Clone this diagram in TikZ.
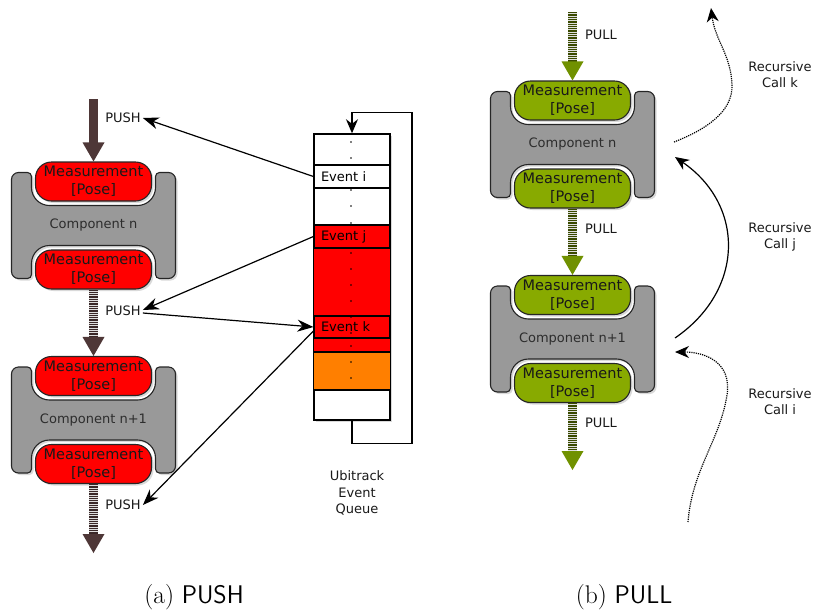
\documentclass[tikz,border=0pt]{standalone}
\usepackage{fontspec}
\newfontfamily\dv{DejaVu Sans}
\usetikzlibrary{shadows,arrows.meta,calc}
\definecolor{pushred}{RGB}{255,0,0}
\definecolor{pullgreen}{RGB}{136,170,0}
\definecolor{bodygray}{RGB}{153,153,153}
\definecolor{qorange}{RGB}{255,127,0}
\definecolor{brownhead}{RGB}{78,55,55}
\definecolor{browndark}{RGB}{58,40,40}
\definecolor{greenhead}{RGB}{112,145,0}
\definecolor{greendark}{RGB}{58,74,0}
\definecolor{stripelight}{RGB}{222,222,222}
\definecolor{textgray}{RGB}{45,45,45}

\tikzset{
  shad/.style={drop shadow={shadow xshift=2pt,shadow yshift=-2pt,opacity=0.3}},
  body/.style={fill=bodygray, draw=black!85, line width=1.1pt, shad},
  pill/.style={draw=black!85, line width=1.1pt, rounded corners=16pt,
    minimum width=116pt, minimum height=39pt, inner sep=0pt, align=center,
    font=\dv\fontsize{14.5}{18}\selectfont, text=black!90, shad},
  complabel/.style={font=\dv\fontsize{13}{16}\selectfont, text=textgray, inner sep=1pt},
  lbl/.style={font=\dv\fontsize{13}{16}\selectfont, text=black!90, inner sep=2pt},
  evrow/.style={draw=black, line width=1.2pt, minimum width=76pt, inner sep=0pt,
    text width=62pt, align=left, font=\dv\fontsize{13}{16}\selectfont},
  conn/.style={draw=black, line width=1.2pt, -{Stealth[length=16pt,width=12pt]}},
  rec/.style={draw=black, line width=1.2pt, -{Stealth[length=14pt,width=12pt]}},
  qloop/.style={draw=black, line width=1.3pt, -{Stealth[length=14pt,width=12pt]}},
  caption/.style={font=\fontsize{25.5}{30}\selectfont, inner sep=0pt}
}

% gray component body with two notches, pills and label
\newcommand\mkcomp[5]{%
  \draw[body] ({#1-82},{#2})
    [rounded corners=7pt] -- ({#1-82},{#2-53})
    [rounded corners=4pt] -- ({#1-62},{#2-53})
    [rounded corners=18pt] -- ({#1-62},{#2-20})
    -- ({#1+62},{#2-20})
    [rounded corners=4pt] -- ({#1+62},{#2-53})
    [rounded corners=7pt] -- ({#1+82},{#2-53})
    -- ({#1+82},{#2+53})
    [rounded corners=4pt] -- ({#1+62},{#2+53})
    [rounded corners=18pt] -- ({#1+62},{#2+20})
    -- ({#1-62},{#2+20})
    [rounded corners=4pt] -- ({#1-62},{#2+53})
    [rounded corners=7pt] -- ({#1-82},{#2+53})
    -- cycle;
  \node[pill, fill=#3] (#4T) at (#1,{#2-44}) {Measurement\\ {[Pose]}};
  \node[pill, fill=#3] (#4B) at (#1,{#2+44}) {Measurement\\ {[Pose]}};
  \node[complabel] (#4L) at (#1,#2) {#5};
}

% thick vertical arrow: #1 start, #2 end, #3 shaft colour, #4 dash, #5 head colour
\newcommand\fatarrow[5]{%
  \draw[line width=9pt, stripelight] (#1) -- ([yshift=18pt]#2);
  \draw[line width=9pt, #3, #4] (#1) -- ([yshift=18pt]#2);
  \fill[#5] (#2) -- ++(-11,-19) -- ++(22,0) -- cycle;
}

\begin{document}
\begin{tikzpicture}[x=1pt,y=-1pt]
\useasboundingbox (0,0) rectangle (816,614);

% ---------------- (a) PUSH ----------------
\mkcomp{93.5}{225.5}{pushred}{ln}{Component n}
\mkcomp{93.5}{420}{pushred}{lm}{Component n+1}

\coordinate (la0) at (93.5,99);
\coordinate (la9) at (93.5,553);
\fatarrow{la0}{lnT.north}{brownhead}{solid}{brownhead}
\fatarrow{lnB.south}{lmT.north}{browndark}{dash pattern=on 1.3pt off 1pt}{brownhead}
\fatarrow{lmB.south}{la9}{browndark}{dash pattern=on 1.3pt off 1pt}{brownhead}

\node[lbl] (pA) at (123,118) {PUSH};
\node[lbl] (pB) at (123,311) {PUSH};
\node[lbl] (pC) at (123,505) {PUSH};

% queue
\node[draw=black, line width=1.5pt, fill=white, minimum width=76pt, minimum height=286pt,
      inner sep=0pt, shad] (queue) at (352,277) {};
\fill[pushred] (314,225) rectangle (390,352);
\fill[qorange] (314,352) rectangle (390,390);
\node[evrow, fill=white, minimum height=23pt] (ei) at (352,176.5) {Event i};
\node[evrow, fill=pushred, minimum height=23pt] (ej) at (352,236.5) {Event j};
\node[evrow, fill=pushred, minimum height=22pt] (ek) at (352,327) {Event k};
\draw[line width=1.2pt] (314,352) -- (390,352);
\draw[line width=1.2pt] (314,390) -- (390,390);
\draw[line width=1.3pt] (queue.north west) rectangle (queue.south east);
\foreach \yy in {142,158,190,206,223,253,269,285,301,317,333,346,362,378}
  \fill[black] (351,\yy) circle (0.9pt);
\draw[qloop] (queue.south) -- ++(0,23) -| ([xshift=60pt,yshift=21pt]queue.north) -| (queue.north);

\node[lbl, align=center, font=\dv\fontsize{13}{16.5}\selectfont] (ubi) at (357,493) {Ubitrack\\Event\\Queue};

% connectors
\draw[conn] (ei.west) -- (pA.east);
\draw[conn] (ej.west) -- ([yshift=1pt]pB.east);
\draw[conn] ([yshift=-2pt]pB.east) -- (ek.west);
\draw[conn] ([yshift=-4pt]ek.west) -- (pC.east);

% ---------------- (b) PULL ----------------
\mkcomp{572.5}{144.5}{pullgreen}{rn}{Component n}
\mkcomp{572.5}{339}{pullgreen}{rm}{Component n+1}

\coordinate (ra0) at (572.5,12);
\coordinate (ra9) at (572.5,470);
\fatarrow{ra0}{rnT.north}{greendark}{dash pattern=on 1.3pt off 1pt}{greenhead}
\fatarrow{rnB.south}{rmT.north}{greendark}{dash pattern=on 1.3pt off 1pt}{greenhead}
\fatarrow{rmB.south}{ra9}{greendark}{dash pattern=on 1.3pt off 1pt}{greenhead}

\node[lbl] (qA) at (601,35) {PULL};
\node[lbl] (qB) at (601,229) {PULL};
\node[lbl] (qC) at (601,423) {PULL};

% recursive calls
\coordinate (rk0) at (674,142);
\coordinate (rk1) at (711,8);
\coordinate (rj0) at (675,338);
\coordinate (rj1) at (675,157);
\coordinate (ri0) at (688,522);
\coordinate (ri1) at (675,352);
\draw[rec, densely dotted] (rk0) .. controls (705,130) and (733,112) .. (732,85)
      .. controls (731,55) and (715,40) .. (rk1);
\draw[rec] (rj0) .. controls (745,290) and (745,205) .. (rj1);
\draw[rec, densely dotted] (ri0) .. controls (692,470) and (720,440) .. (727,395)
      .. controls (732,362) and (705,352) .. (ri1);

\node[lbl, align=center] (tk) at (780,74.5) {Recursive\\Call k};
\node[lbl, align=center] (tj) at (780,236.5) {Recursive\\Call j};
\node[lbl, align=center] (ti) at (780,401.5) {Recursive\\Call i};

% captions
\node[caption] (capa) at (194,597) {(a)~\textsf{PUSH}};
\node[caption] (capb) at (624,597) {(b)~\textsf{PULL}};
\end{tikzpicture}
\end{document}
